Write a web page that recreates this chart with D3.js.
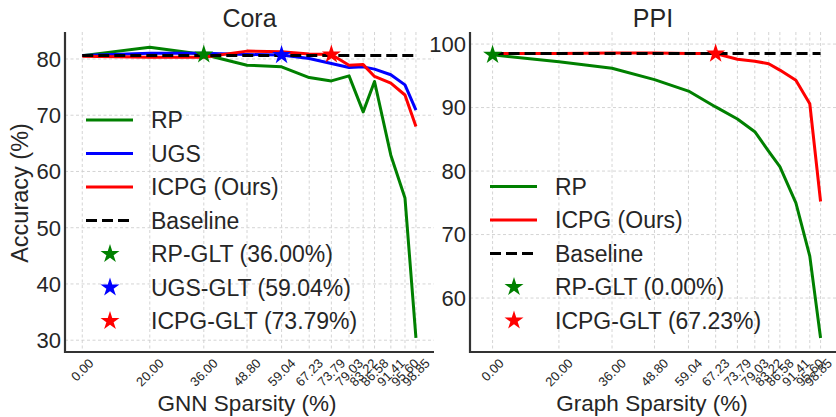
<!DOCTYPE html>
<html>
<head>
<meta charset="utf-8">
<script src="https://cdn.jsdelivr.net/npm/d3@7"></script>
<style>
  body { margin: 0; background: #fff; }
  svg text { font-family: "Liberation Sans", Arial, sans-serif; fill: #262626; }
</style>
</head>
<body>
<svg id="chart" width="836" height="417"></svg>
<script>
// sparsity levels (shared by both panels)
var sparsity = [0, 20, 36, 48.80, 59.04, 67.23, 73.79, 79.03, 83.22, 86.58, 91.41, 95.60, 98.85];
var sparsityLabels = ["0.00", "20.00", "36.00", "48.80", "59.04", "67.23", "73.79", "79.03", "83.22", "86.58", "91.41", "95.60", "98.85"];

// Cora
var coraRP   = [80.6, 82.1, 80.8, 78.9, 78.6, 76.7, 76.1, 77.0, 70.6, 76.0, 62.9, 55.3, 30.4];
var coraUGS  = [80.6, 81.0, 81.0, 80.8, 80.7, 80.1, 79.2, 78.5, 78.6, 78.2, 77.2, 75.4, 70.9];
var coraICPG = [80.5, 80.3, 80.3, 81.4, 81.3, 80.9, 80.8, 78.9, 79.0, 76.9, 75.7, 73.6, 68.0];
var coraBaseline = 80.6;
var coraTicks = [30, 40, 50, 60, 70, 80];

// PPI
var ppiRP   = [98.3, 97.2, 96.2, 94.4, 92.6, 90.1, 88.2, 86.2, 83.1, 80.7, 75.0, 66.6, 53.7];
var ppiICPG = [98.5, 98.5, 98.6, 98.6, 98.5, 98.5, 97.6, 97.3, 96.9, 95.9, 94.3, 90.6, 75.2];
var ppiBaseline = 98.5;
var ppiTicks = [60, 70, 80, 90, 100];

var svg = d3.select("#chart");
var star = d3.symbol().type(d3.symbolStar).size(112);

function panel(opt) {
  var x = d3.scaleLinear().domain(opt.xdom).range([opt.left, opt.right]);
  var y = d3.scaleLinear().domain(opt.ydom).range([opt.bottom, opt.top]);
  var g = svg.append("g");

  // grid
  g.selectAll(".vg").data(sparsity).enter().append("line")
    .attr("x1", d => x(d)).attr("x2", d => x(d))
    .attr("y1", opt.top).attr("y2", opt.bottom)
    .attr("stroke", "#cfcfcf").attr("stroke-width", 0.9).attr("stroke-dasharray", "3,2.5");
  g.selectAll(".hg").data(opt.yticks).enter().append("line")
    .attr("x1", opt.left).attr("x2", opt.right)
    .attr("y1", d => y(d)).attr("y2", d => y(d))
    .attr("stroke", "#cfcfcf").attr("stroke-width", 0.9).attr("stroke-dasharray", "3,2.5");

  var line = d3.line().x((d, i) => x(sparsity[i])).y(d => y(d));
  opt.series.forEach(function(s) {
    g.append("path").datum(s.values)
      .attr("d", line).attr("fill", "none")
      .attr("stroke", s.color).attr("stroke-width", 3).attr("stroke-linejoin", "round");
  });

  // baseline
  g.append("line")
    .attr("x1", x(sparsity[0])).attr("x2", x(sparsity[sparsity.length - 1]))
    .attr("y1", y(opt.baseline)).attr("y2", y(opt.baseline))
    .attr("stroke", "#000").attr("stroke-width", 3).attr("stroke-dasharray", "11,5");

  // winning tickets
  opt.stars.forEach(function(s) {
    g.append("path").attr("d", star)
      .attr("transform", "translate(" + x(s.x) + "," + y(s.y) + ")")
      .attr("fill", s.color);
  });

  // spines
  g.append("line").attr("x1", opt.left).attr("x2", opt.left)
    .attr("y1", opt.top).attr("y2", opt.bottom + 1)
    .attr("stroke", "#333").attr("stroke-width", 2.2);
  g.append("line").attr("x1", opt.left - 1).attr("x2", opt.right)
    .attr("y1", opt.bottom).attr("y2", opt.bottom)
    .attr("stroke", "#333").attr("stroke-width", 2.2);

  // y tick labels
  g.selectAll(".yt").data(opt.yticks).enter().append("text")
    .attr("x", opt.left - 4).attr("y", d => y(d))
    .attr("dy", "0.36em").attr("text-anchor", "end")
    .style("font-size", "22px")
    .text(d => d);

  // x tick labels, rotated 45 and centred on the tick (kept inside the page)
  g.selectAll(".xt").data(sparsity).enter().append("text")
    .attr("text-anchor", "middle").attr("dy", "0.35em")
    .style("font-size", "13px")
    .text((d, i) => sparsityLabels[i])
    .each(function(d) {
      var w = this.getComputedTextLength(), h = 15;
      var half = (w + h) * 0.3536;
      var cx = Math.min(x(d), 835 - half);
      var cy = opt.bottom + 5 + (w + 11) * 0.3536;
      d3.select(this).attr("transform", "translate(" + cx + "," + cy + ") rotate(-45)");
    });

  g.append("text")
    .attr("x", (opt.left + Math.min(opt.right, 836)) / 2).attr("y", 27)
    .attr("text-anchor", "middle").style("font-size", "25px")
    .text(opt.title);
  g.append("text")
    .attr("x", opt.labelX).attr("y", 411)
    .attr("text-anchor", "middle").style("font-size", "22.5px")
    .text(opt.xlabel);

  // legend (no frame)
  var lg = g.append("g");
  opt.legend.forEach(function(item, i) {
    var ly = opt.legendY + i * 33.5;
    if (item.type === "line") {
      lg.append("line")
        .attr("x1", opt.legendX).attr("x2", opt.legendX + 47)
        .attr("y1", ly).attr("y2", ly)
        .attr("stroke", item.color).attr("stroke-width", 3)
        .attr("stroke-dasharray", item.dash || null);
    } else {
      lg.append("path").attr("d", star)
        .attr("transform", "translate(" + (opt.legendX + 24) + "," + ly + ")")
        .attr("fill", item.color);
    }
    lg.append("text")
      .attr("x", opt.legendX + 65).attr("y", ly)
      .attr("dy", "0.36em").style("font-size", "23px")
      .text(item.label);
  });
  return g;
}

panel({
  title: "Cora", xlabel: "GNN Sparsity (%)", labelX: 247,
  left: 65, right: 434, top: 32, bottom: 352,
  xdom: [-5.12, 104.2], ydom: [27.9, 84.8], yticks: coraTicks,
  series: [
    {values: coraRP, color: "green"},
    {values: coraUGS, color: "blue"},
    {values: coraICPG, color: "red"}
  ],
  baseline: coraBaseline,
  stars: [
    {x: sparsity[2], y: coraRP[2], color: "green"},
    {x: sparsity[4], y: coraUGS[4], color: "blue"},
    {x: sparsity[6], y: coraICPG[6], color: "red"}
  ],
  legendX: 86, legendY: 120,
  legend: [
    {type: "line", color: "green", label: "RP"},
    {type: "line", color: "blue", label: "UGS"},
    {type: "line", color: "red", label: "ICPG (Ours)"},
    {type: "line", color: "#000", dash: "11,5", label: "Baseline"},
    {type: "star", color: "green", label: "RP-GLT (36.00%)"},
    {type: "star", color: "blue", label: "UGS-GLT (59.04%)"},
    {type: "star", color: "red", label: "ICPG-GLT (73.79%)"}
  ]
});

panel({
  title: "PPI", xlabel: "Graph Sparsity (%)", labelX: 652,
  left: 470, right: 836, top: 32, bottom: 352,
  xdom: [-6.8, 103.5], ydom: [51.5, 101.9], yticks: ppiTicks,
  series: [
    {values: ppiRP, color: "green"},
    {values: ppiICPG, color: "red"}
  ],
  baseline: ppiBaseline,
  stars: [
    {x: sparsity[0], y: ppiRP[0], color: "green"},
    {x: sparsity[5], y: ppiICPG[5], color: "red"}
  ],
  legendX: 490, legendY: 186.5,
  legend: [
    {type: "line", color: "green", label: "RP"},
    {type: "line", color: "red", label: "ICPG (Ours)"},
    {type: "line", color: "#000", dash: "11,5", label: "Baseline"},
    {type: "star", color: "green", label: "RP-GLT (0.00%)"},
    {type: "star", color: "red", label: "ICPG-GLT (67.23%)"}
  ]
});

// shared y label
svg.append("text")
  .attr("transform", "translate(20,193) rotate(-90)")
  .attr("text-anchor", "middle").attr("dominant-baseline", "central")
  .style("font-size", "23.5px")
  .text("Accuracy (%)");
</script>
</body>
</html>
